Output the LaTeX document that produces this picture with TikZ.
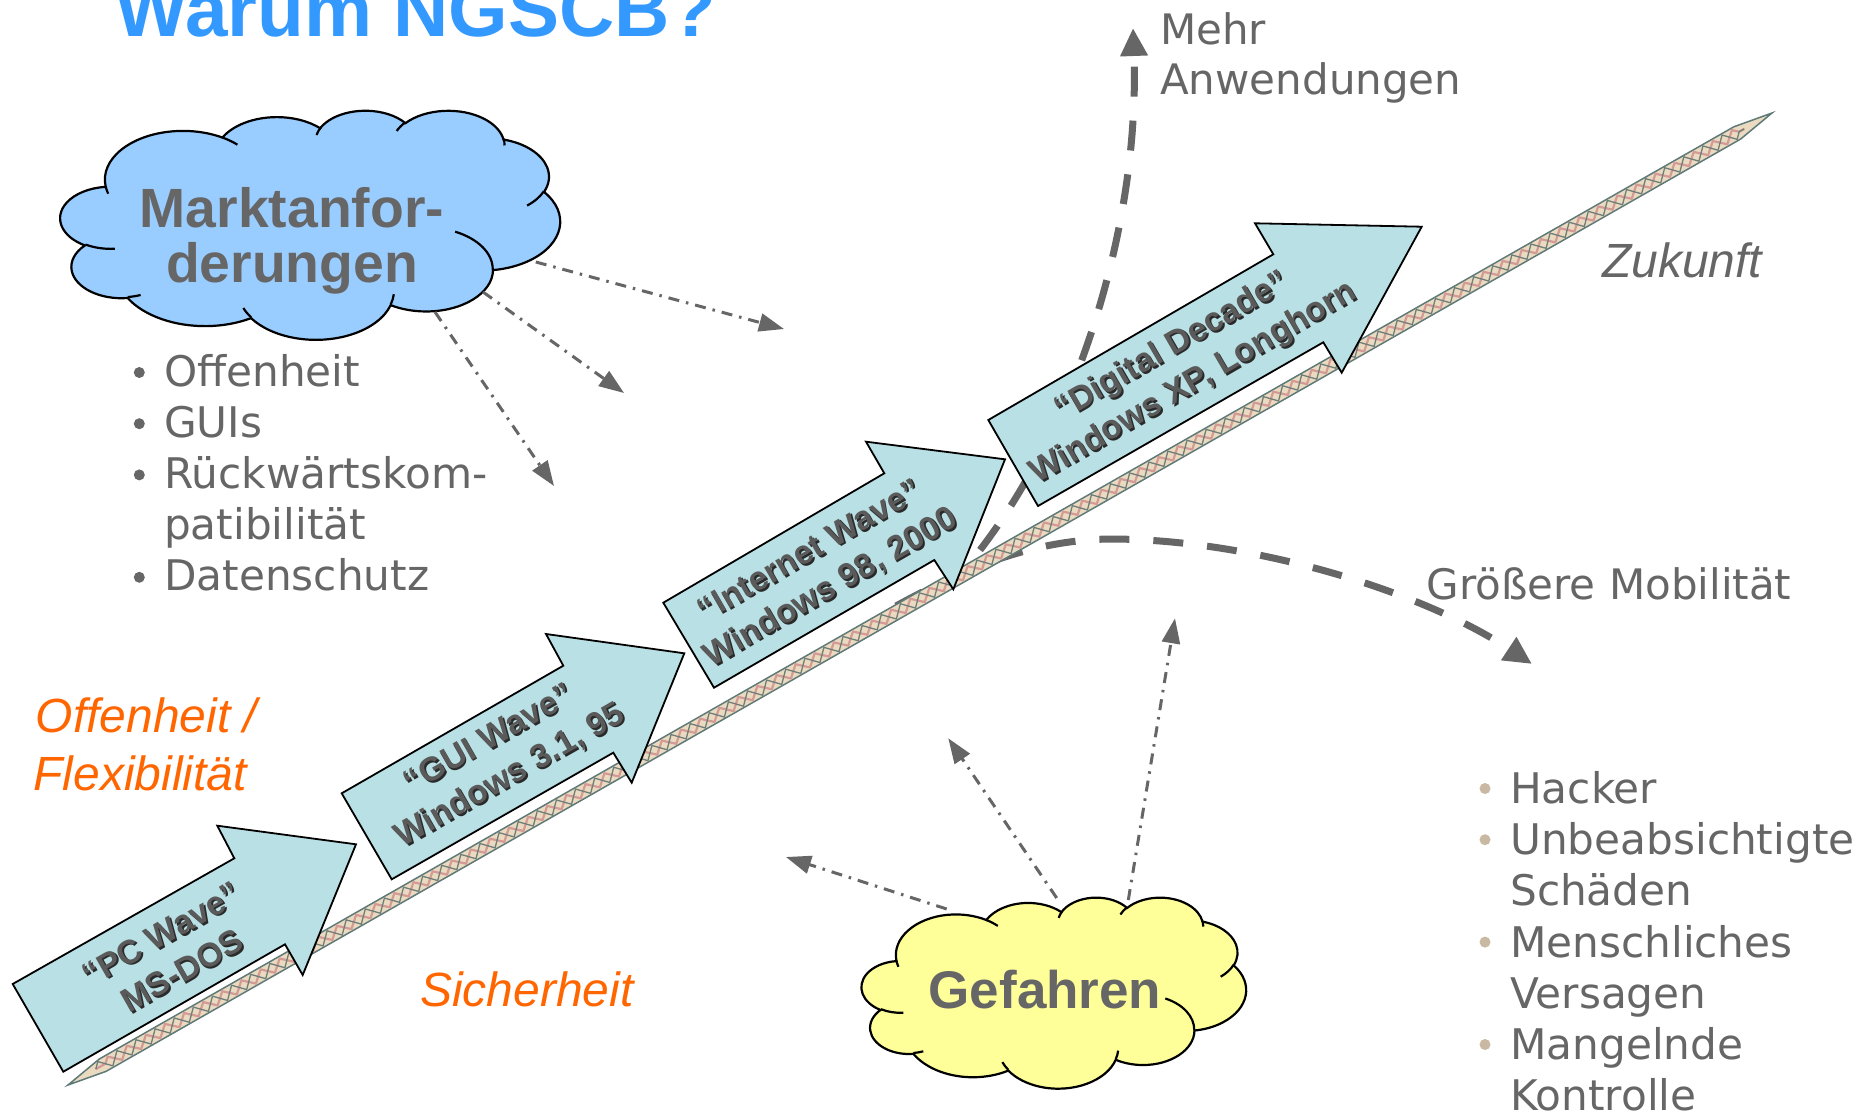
\documentclass[tikz,border=0pt]{standalone}
\usepackage{fontspec}
\setmainfont{Liberation Sans}
\newfontfamily\dejavu{DejaVu Sans}
\usetikzlibrary{arrows.meta,calc,decorations.pathmorphing}

\definecolor{titleblue}{HTML}{3399FF}
\definecolor{txtgrey}{HTML}{666666}
\definecolor{orng}{HTML}{FF6600}
\definecolor{wavefill}{HTML}{B9E0E4}
\definecolor{wavetext}{HTML}{5A5A5A}
\definecolor{waveshade}{HTML}{2A2A2A}
\definecolor{cloudblue}{HTML}{99CCFF}
\definecolor{cloudyellow}{HTML}{FFFF99}
\definecolor{bulletbeige}{HTML}{C9B9A3}
\definecolor{ropefill}{HTML}{EADBC0}
\definecolor{ropeedge}{HTML}{5F7A78}
\definecolor{ropeseamA}{HTML}{6F7E7A}
\definecolor{ropeseamB}{HTML}{D39A96}

% PowerPoint-style arc: wR hR stAng swAng (geometric degrees)
\newcommand\pptcalc[4]{%
  \pgfmathsetmacro\pptA{atan2(#1*sin(#3),#2*cos(#3))}%
  \pgfmathsetmacro\pptB{atan2(#1*sin(#3+#4),#2*cos(#3+#4))}%
  \pgfmathsetmacro\pptD{\pptB-\pptA}%
  \pgfmathsetmacro\pptD{(#4>0)*(\pptD<0)*360-(#4<0)*(\pptD>0)*360+\pptD}%
}
\newcommand\pptarc[4]{\pgfextra{\pptcalc{#1}{#2}{#3}{#4}} arc[start angle=\pptA, delta angle=\pptD, x radius=#1, y radius=#2]}

\newcommand\pptouter{(39.00,143.70)
 \pptarc{67.53}{91.90}{-190.4875}{123.7805}
 \pptarc{53.33}{72.67}{-144.1024}{89.9452}
 \pptarc{43.65}{59.45}{-145.8079}{99.7230}
 \pptarc{48.57}{65.95}{-130.9861}{117.2417}
 \pptarc{53.33}{72.73}{-78.7089}{109.0269}
 \pptarc{67.75}{92.20}{-46.2673}{130.2690}
 \pptarc{57.85}{78.67}{0.6250}{114.0333}
 \pptarc{67.52}{92.15}{22.4516}{115.1726}
 \pptarc{77.20}{105.43}{66.2426}{75.7110}
 \pptarc{43.60}{59.18}{-274.9421}{146.7356}
 \pptarc{43.45}{59.45}{-246.8285}{152.5189} -- cycle}

\newcommand\pptinner{
 (46.93,261.77) \pptarc{43.45}{59.45}{86.7420}{26.4295}
 (69.28,348.99) \pptarc{43.60}{59.18}{73.6105}{11.4475}
 (164.78,390.90) \pptarc{67.52}{92.15}{137.6242}{14.0811}
 (288.27,347.51) \pptarc{67.52}{92.15}{6.4533}{15.9984}
 (341.29,229.54) \pptarc{57.85}{78.67}{-70.2924}{70.9174}
 (417.98,153.54) \pptarc{53.33}{72.73}{30.3180}{27.7515}
 (383.24,54.26) \pptarc{48.57}{65.95}{-13.7443}{14.8589}
 (290.78,39.52) \pptarc{48.57}{65.95}{-149.1815}{18.1954}
 (221.41,47.20) \pptarc{43.65}{59.45}{-163.4943}{17.6864}
 (140.00,51.92) \pptarc{67.53}{91.90}{-66.7070}{12.3194}
 (41.27,157.89) \pptarc{67.53}{91.90}{157.6544}{11.8582}}

\begin{document}
\begin{tikzpicture}[x=1pt,y=-1pt,
  lbl/.style={inner sep=0pt, anchor=base west, text=txtgrey},
  listtxt/.style={lbl, font=\dejavu\fontsize{42.2}{50}\selectfont},
  sidetxt/.style={lbl, font=\dejavu\fontsize{42}{50}\selectfont},
  orangetxt/.style={lbl, text=orng, font=\itshape\fontsize{48}{58}\selectfont},
  cloudtxt/.style={inner sep=0pt, anchor=base, text=txtgrey, font=\bfseries\fontsize{55.3}{55}\selectfont},
  wavetxt/.style={inner sep=0pt, align=center, text=wavetext, font=\bfseries\fontsize{33.5}{42}\selectfont},
  waveshadow/.style={wavetxt, text=waveshade},
  wavebox/.style={fill=wavefill, draw=black, line width=1.8, line join=miter},
  dashdot/.style={draw=txtgrey, line width=3, dash pattern=on 11pt off 7pt on 2.5pt off 7pt, -{Triangle[length=25pt,width=18pt]}},
  bigdash/.style={draw=txtgrey, line width=7, dash pattern=on 30pt off 24pt, -{Triangle[length=28pt,width=26pt]}},
  cloudline/.style={draw=black, line width=2.2}]

\useasboundingbox (0,0) rectangle (1867,1113);
\fill[white] (0,0) rectangle (1867,1113);
\clip (0,0) rectangle (1867,1113);

% title
\node[inner sep=0pt, anchor=base west, text=titleblue, font=\bfseries\fontsize{76.5}{80}\selectfont] (title) at (115.5,37) {Warum NGSCB?};

% thick dashed trend arrows
\coordinate (mehrS) at (980,550);
\coordinate (mehrE) at (1133,28);
\coordinate (mobS) at (896,606);
\coordinate (mobM) at (1110,539);
\coordinate (mobE) at (1532,664);
\draw[bigdash] (mehrS) .. controls (1080,420) and (1140,220) .. (mehrE);
\draw[bigdash] (mobS) .. controls (962,570) and (1030,540) .. (mobM) .. controls (1250,539) and (1420,590) .. (mobE);

% rope
\coordinate (ropeA) at (68,1085);
\coordinate (ropeB) at (1772,113);
\path[fill=ropefill, draw=ropeedge, line width=1.5] (ropeA) -- (106.2,1071.3) -- (1740.7,139.0) -- (ropeB) -- (1733.8,126.8) -- (99.3,1059.0) -- cycle;
\draw[ropeseamB, line width=2.2, decorate, decoration={zigzag, segment length=22pt, amplitude=5pt, pre length=11pt}] ($(ropeA)!32pt!(ropeB)$) -- ($(ropeB)!32pt!(ropeA)$);
\draw[ropeseamA, line width=1.3, decorate, decoration={zigzag, segment length=22pt, amplitude=5.6pt}] ($(ropeA)!32pt!(ropeB)$) -- ($(ropeB)!32pt!(ropeA)$);

% wave arrows
\path[wavebox] (12.7,984) -- (234.3,858.3) -- (217.3,825.7) -- (356,844.3) -- (302.7,975) -- (285,944.3) -- (63.3,1071.7) -- cycle;
\path[wavebox] (341.7,793.3) -- (563.3,665.7) -- (546,634) -- (684.3,653.3) -- (631.7,782.7) -- (613.3,752.7) -- (391.7,879.3) -- cycle;
\path[wavebox] (663.3,602.7) -- (884.3,473.3) -- (866,441.7) -- (1005,459.3) -- (953.3,589.3) -- (934.3,560) -- (714,687.7) -- cycle;
\path[wavebox] (988.3,420) -- (1273.3,254.3) -- (1255,223.3) -- (1421.7,226.7) -- (1341.7,372.7) -- (1323.3,342.3) -- (1038,506) -- cycle;

\node[waveshadow, rotate=29.7] (w1s) at (173.6,954.0) {“PC Wave”\\MS-DOS};
\node[wavetxt, rotate=29.7] (w1) at (171.8,952.2) {“PC Wave”\\MS-DOS};
\node[waveshadow, rotate=29.7] (w2s) at (501.6,759.6) {“GUI Wave”\\Windows 3.1, 95};
\node[wavetxt, rotate=29.7] (w2) at (499.8,757.8) {“GUI Wave”\\Windows 3.1, 95};
\node[waveshadow, rotate=29.9] (w3s) at (822.5,571.8) {“Internet Wave”\\Windows 98, 2000};
\node[wavetxt, rotate=29.9] (w3) at (820.7,570) {“Internet Wave”\\Windows 98, 2000};
\node[waveshadow, rotate=30.2] (w4s) at (1184.8,366.8) {“Digital Decade”\\Windows XP, Longhorn};
\node[wavetxt, rotate=30.2] (w4) at (1183,365) {“Digital Decade”\\Windows XP, Longhorn};

% clouds
\begin{scope}[shift={(60.5,110)}, xscale=1.1563, yscale=0.5301]
  \path[fill=cloudblue, cloudline] \pptouter;
  \draw[cloudline] \pptinner;
\end{scope}
\node[cloudtxt] (mk1) at (292,227) {Marktanfor-};
\node[cloudtxt] (mk2) at (292,282) {derungen};

\begin{scope}[shift={(861.7,897)}, xscale=0.8896, yscale=0.4421]
  \path[fill=cloudyellow, cloudline] \pptouter;
  \draw[cloudline] \pptinner;
\end{scope}
\node[cloudtxt, font=\bfseries\fontsize{53}{53}\selectfont] (gef) at (1045,1008) {Gefahren};

% dash-dot influence arrows
\coordinate (m1s) at (535.8,262);   \coordinate (m1e) at (784,329);
\coordinate (m2s) at (483,292);     \coordinate (m2e) at (624,393);
\coordinate (m3s) at (435,312);     \coordinate (m3e) at (554,486);
\coordinate (g1s) at (946.7,909);   \coordinate (g1e) at (786,857);
\coordinate (g2s) at (1056.7,898);  \coordinate (g2e) at (948.3,738.3);
\coordinate (g3s) at (1128.3,900);  \coordinate (g3e) at (1175,618.3);
\draw[dashdot] (m1s) -- (m1e);
\draw[dashdot] (m2s) -- (m2e);
\draw[dashdot] (m3s) -- (m3e);
\draw[dashdot] (g1s) -- (g1e);
\draw[dashdot] (g2s) -- (g2e);
\draw[dashdot] (g3s) -- (g3e);

% left list
\fill[txtgrey] (139.3,372.5) circle (5.5pt);
\fill[txtgrey] (139.3,423.7) circle (5.5pt);
\fill[txtgrey] (139.3,474.9) circle (5.5pt);
\fill[txtgrey] (139.3,577.3) circle (5.5pt);
\node[listtxt] (l1) at (164,386) {Offenheit};
\node[listtxt] (l2) at (164,437.2) {GUIs};
\node[listtxt] (l3) at (164,488.4) {Rückwärtskom-};
\node[listtxt] (l4) at (164,539.6) {patibilität};
\node[listtxt] (l5) at (164,590.8) {Datenschutz};

% right list
\fill[bulletbeige] (1485,788.5) circle (5.5pt);
\fill[bulletbeige] (1485,839.7) circle (5.5pt);
\fill[bulletbeige] (1485,942.1) circle (5.5pt);
\fill[bulletbeige] (1485,1044.5) circle (5.5pt);
\node[listtxt] (r1) at (1510,803.5) {Hacker};
\node[listtxt] (r2) at (1510,854.7) {Unbeabsichtigte};
\node[listtxt] (r3) at (1510,905.9) {Schäden};
\node[listtxt] (r4) at (1510,957.1) {Menschliches};
\node[listtxt] (r5) at (1510,1008.3) {Versagen};
\node[listtxt] (r6) at (1510,1059.5) {Mangelnde};
\node[listtxt] (r7) at (1510,1110.7) {Kontrolle};

% side labels
\node[sidetxt] (mehr1) at (1160,45) {Mehr};
\node[sidetxt] (mehr2) at (1160,95) {Anwendungen};
\node[sidetxt] (mob) at (1426.5,599) {Größere Mobilität};
\node[lbl, font=\itshape\fontsize{48}{56}\selectfont] (zuk) at (1602,277) {Zukunft};

\node[orangetxt] (off) at (35.7,732) {Offenheit /};
\node[orangetxt] (flex) at (33.3,790.6) {Flexibilität};
\node[orangetxt] (sich) at (420,1006.5) {Sicherheit};

\end{tikzpicture}
\end{document}
